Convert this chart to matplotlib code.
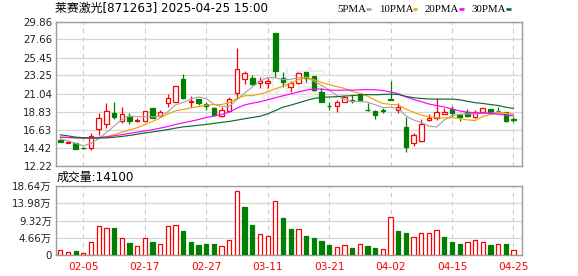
import numpy as np
import matplotlib
matplotlib.use("Agg")
import matplotlib.pyplot as plt
from matplotlib.lines import Line2D

plt.rcParams["font.family"] = ["DejaVu Sans", "Noto Sans CJK SC"]

W, H = 578, 276          # output size in pixels (dpi 100)

TITLE = "莱赛激光[871263] 2025-04-25 15:00"
VOL_LABEL = "成交量:14100"

# trading days shown (MM-DD)
DATES = ["01-23", "01-24", "01-27",
         "02-05", "02-06", "02-07", "02-10", "02-11", "02-12", "02-13", "02-14",
         "02-17", "02-18", "02-19", "02-20", "02-21", "02-24", "02-25", "02-26",
         "02-27", "02-28", "03-03", "03-04", "03-05", "03-06", "03-07", "03-10",
         "03-11", "03-12", "03-13", "03-14", "03-17", "03-18", "03-19", "03-20",
         "03-21", "03-24", "03-25", "03-26", "03-27", "03-28", "03-31", "04-01",
         "04-02", "04-03", "04-07", "04-08", "04-09", "04-10", "04-11", "04-14",
         "04-15", "04-16", "04-17", "04-18", "04-21", "04-22", "04-23", "04-24",
         "04-25"]
TICK_DATES = ["02-05", "02-17", "02-27", "03-11", "03-21", "04-02", "04-15", "04-25"]

OPEN = [15.30, 15.00, 14.95, 14.38, 14.36, 16.70, 17.32, 18.66, 17.70, 18.25,
        17.72, 17.66, 19.28, 18.24, 19.88, 20.04, 22.78, 20.05, 20.38, 19.76,
        19.27, 18.29, 18.95, 21.14, 22.77, 22.89, 22.37, 22.28, 28.43, 22.97,
        21.88, 22.37, 23.63, 23.18, 21.27, 19.56, 19.56, 19.96, 20.22, 20.98,
        19.05, 18.95, 18.97, 20.40, 19.03, 16.95, 14.96, 15.28, 17.75, 18.09,
        18.50, 19.11, 18.35, 18.75, 18.13, 18.82, 19.15, 18.92, 18.80, 17.90]
HIGH = [15.38, 15.20, 14.98, 14.52, 16.20, 18.62, 19.90, 20.00, 19.38, 18.66,
        18.06, 18.95, 19.30, 18.96, 20.95, 21.98, 23.42, 20.74, 20.42, 20.04,
        19.35, 19.35, 20.66, 26.60, 23.83, 23.30, 23.02, 22.94, 28.45, 23.71,
        22.61, 23.71, 23.71, 23.20, 21.67, 20.04, 20.25, 20.74, 20.86, 21.06,
        19.92, 18.96, 19.23, 22.57, 19.92, 18.21, 16.18, 17.89, 18.50, 20.50,
        19.23, 19.52, 18.54, 19.11, 19.03, 19.25, 19.17, 19.43, 18.82, 18.21]
LOW = [15.08, 14.95, 14.20, 14.20, 14.10, 16.00, 16.85, 17.95, 17.48, 17.28,
       17.55, 17.62, 18.00, 18.22, 19.40, 19.96, 20.33, 19.35, 19.64, 19.03,
       18.42, 18.21, 18.82, 20.37, 22.16, 22.08, 21.67, 21.67, 23.10, 21.88,
       21.27, 22.16, 22.49, 21.39, 20.00, 19.03, 18.82, 19.94, 19.90, 20.15,
       18.95, 17.89, 18.62, 20.20, 18.70, 13.82, 14.63, 15.04, 17.68, 17.80,
       18.50, 18.18, 17.62, 18.21, 18.05, 18.70, 18.54, 18.74, 17.60, 17.55]
CLOSE = [15.10, 15.16, 14.22, 14.33, 15.80, 18.05, 18.92, 18.12, 18.48, 17.66,
         17.80, 18.95, 18.02, 18.78, 20.48, 21.96, 20.50, 20.18, 19.92, 19.55,
         18.46, 19.03, 20.37, 23.99, 23.59, 22.20, 22.57, 22.62, 23.83, 22.49,
         22.37, 23.51, 22.89, 21.47, 20.04, 19.50, 20.04, 20.57, 20.12, 20.17,
         19.00, 18.42, 18.90, 20.25, 19.43, 14.43, 15.97, 17.32, 18.09, 18.82,
         18.78, 18.66, 18.13, 18.33, 18.75, 19.23, 18.62, 18.86, 17.72, 17.85]
PREV_CLOSE = 15.00       # close of the day before the first bar

# volume in 万 shares
VOLUME = [1.26, 0.72, 1.08, 0.63, 3.42, 7.75, 7.20, 7.30, 4.50, 3.15,
          2.35, 4.50, 3.50, 2.90, 7.75, 8.00, 6.50, 3.50, 2.75, 3.00,
          3.00, 2.30, 4.05, 17.2, 13.0, 8.10, 5.60, 5.10, 14.6, 10.0,
          7.00, 7.00, 5.10, 4.60, 3.80, 2.70, 2.15, 2.60, 1.90, 2.90,
          2.40, 1.90, 1.60, 10.2, 6.50, 5.90, 4.80, 5.90, 5.90, 6.80,
          4.90, 3.50, 3.00, 3.40, 4.00, 3.40, 2.70, 2.90, 2.90, 1.41]

MA5 = [15.45, 15.25, 14.93, 14.64, 14.92, 15.51, 16.26, 17.04, 17.87, 18.25,
       18.20, 18.20, 18.18, 18.24, 18.81, 19.64, 19.95, 20.38, 20.61, 20.42,
       19.72, 19.43, 19.47, 20.28, 21.09, 21.84, 22.54, 22.99, 22.96, 22.74,
       22.78, 22.96, 23.02, 22.55, 22.06, 21.48, 20.79, 20.32, 20.05, 20.08,
       19.98, 19.66, 19.32, 19.35, 19.20, 18.29, 17.80, 17.48, 17.05, 16.93,
       17.80, 18.33, 18.50, 18.54, 18.53, 18.62, 18.61, 18.76, 18.64, 18.46]
MA10 = [15.74, 15.65, 15.56, 15.53, 15.53, 15.60, 15.75, 16.00, 16.30, 16.58,
        16.85, 17.23, 17.61, 18.06, 18.53, 18.92, 19.08, 19.28, 19.43, 19.61,
        19.68, 19.69, 19.92, 20.44, 20.76, 20.78, 20.99, 21.23, 21.62, 21.92,
        22.31, 22.75, 23.01, 22.75, 22.40, 22.13, 21.88, 21.67, 21.30, 21.07,
        20.73, 20.22, 19.82, 19.70, 19.64, 19.13, 18.73, 18.40, 18.20, 18.06,
        18.04, 18.07, 17.99, 17.80, 17.73, 18.21, 18.47, 18.63, 18.59, 18.49]
MA20 = [15.65, 15.65, 15.62, 15.60, 15.62, 15.66, 15.72, 15.85, 16.00, 16.15,
        16.30, 16.45, 16.60, 16.80, 17.00, 17.25, 17.45, 17.65, 17.85, 18.10,
        18.27, 18.46, 18.77, 19.25, 19.64, 19.85, 20.03, 20.26, 20.52, 20.76,
        20.99, 21.22, 21.46, 21.60, 21.58, 21.45, 21.43, 21.45, 21.46, 21.49,
        21.52, 21.49, 21.41, 21.23, 21.02, 20.63, 20.30, 20.04, 19.75, 19.57,
        19.39, 19.14, 18.91, 18.75, 18.68, 18.67, 18.60, 18.51, 18.39, 18.28]
MA30 = [15.98, 15.85, 15.70, 15.62, 15.58, 15.58, 15.60, 15.68, 15.78, 15.90,
        16.05, 16.20, 16.33, 16.47, 16.62, 16.80, 16.95, 17.05, 17.15, 17.25,
        17.38, 17.50, 17.62, 17.78, 17.95, 18.10, 18.25, 18.55, 18.95, 19.37,
        19.61, 19.89, 20.18, 20.42, 20.56, 20.61, 20.65, 20.73, 20.78, 20.87,
        20.91, 20.89, 20.92, 20.97, 20.93, 20.68, 20.53, 20.43, 20.37, 20.35,
        20.36, 20.35, 20.27, 20.08, 19.92, 19.82, 19.69, 19.57, 19.36, 19.21]

PRICE_TICKS = [12.22, 14.42, 16.63, 18.83, 21.04, 23.25, 25.45, 27.66, 29.86]
VOL_TICKS = [0, 4.66, 9.32, 13.98, 18.64]

RED = "#ff0000"
GREEN = "#008000"
GRID = "#d6d6d6"
VGRID = "#c8c8c8"
FRAME = "#9c9c9c"
MA_SERIES = [("5PMA", MA5, "#a6a6a6"), ("10PMA", MA10, "#f2a100"),
             ("20PMA", MA20, "#ff00ff"), ("30PMA", MA30, "#0b6b2e")]


def fx(px):
    return px / W


def fy(py):
    return 1.0 - py / H


def style_axes(ax, ticks):
    for s in ax.spines.values():
        s.set_color(FRAME)
        s.set_linewidth(1.0)
    ax.set_xticks(ticks)
    ax.tick_params(length=0)
    ax.xaxis.grid(True, color=VGRID, lw=0.75, ls=(0, (4, 4)))
    ax.yaxis.grid(True, color=GRID, lw=0.9, ls="-")
    ax.set_axisbelow(True)
    ax.set_xlim(-0.56, 60.05)


fig = plt.figure(figsize=(W / 100, H / 100), dpi=100)
ax = fig.add_axes([fx(56), fy(165.5), fx(465.5), 144 / H])
axv = fig.add_axes([fx(56), fy(255), fx(465.5), 69 / H])

x = np.arange(len(DATES))
tick_pos = [DATES.index(d) for d in TICK_DATES]
o, hi, lo, c = (np.asarray(a) for a in (OPEN, HIGH, LOW, CLOSE))
up = c >= o
b_lo, b_hi = np.minimum(o, c), np.maximum(o, c)

# --- price panel
style_axes(ax, tick_pos)
ax.set_ylim(12.22, 29.86)
ax.set_yticks(PRICE_TICKS)
ax.set_yticklabels([f"{v:.2f}" for v in PRICE_TICKS], fontsize=7.4, color="#222222")
ax.tick_params(axis="y", pad=2.6)
ax.set_xticklabels([])

# faint watermark behind the candles
ax.text(0.51, 0.55, "财富", transform=ax.transAxes, fontsize=25, color="#ededed",
        ha="center", va="center", family=["Noto Sans CJK SC"], zorder=1)

ax.vlines(x[~up], lo[~up], hi[~up], color=GREEN, lw=0.9, zorder=2)
ax.vlines(x[up], b_hi[up], hi[up], color=RED, lw=0.9, zorder=2)
ax.vlines(x[up], lo[up], b_lo[up], color=RED, lw=0.9, zorder=2)
ax.bar(x[up], (b_hi - b_lo)[up], bottom=b_lo[up], width=0.58,
       facecolor="white", edgecolor=RED, lw=0.9, zorder=3)
ax.bar(x[~up], (b_hi - b_lo)[~up], bottom=b_lo[~up], width=0.58,
       facecolor=GREEN, edgecolor=GREEN, lw=0.9, zorder=3)

for name, vals, col in MA_SERIES:
    ax.plot(x, vals, color=col, lw=0.85, zorder=4)

# --- volume panel
prev = np.concatenate([[PREV_CLOSE], c[:-1]])
vup = c >= prev
vol = np.asarray(VOLUME)
style_axes(axv, tick_pos)
axv.set_ylim(0, 18.64)
axv.set_yticks(VOL_TICKS)
axv.set_yticklabels(["0" if v == 0 else f"{v:.2f}万" for v in VOL_TICKS],
                    fontsize=7.4, color="#222222")
axv.tick_params(axis="y", pad=3.0)
axv.set_xticklabels(TICK_DATES, fontsize=7.6, color=RED)
axv.tick_params(axis="x", pad=5)
axv.bar(x[vup], vol[vup], width=0.56, facecolor="white", edgecolor=RED, lw=0.9, zorder=3)
axv.bar(x[~vup], vol[~vup], width=0.56, facecolor=GREEN, edgecolor=GREEN, lw=0.9, zorder=3)

# --- titles and legend
fig.text(fx(55), fy(8.5), TITLE, fontsize=8.6, color="black", ha="left", va="center")
fig.text(fx(57), fy(177.5), VOL_LABEL, fontsize=8.6, color="black", ha="left", va="center")

legend_left = [337, 379, 425, 471]
marker_left = [366, 412.7, 459.3, 506]
for (name, _, col), lx, mx in zip(MA_SERIES, legend_left, marker_left):
    fig.text(fx(lx), fy(9), name, fontsize=7.8, family=["Liberation Serif"],
             color="black", ha="left", va="center")
    fig.add_artist(Line2D([fx(mx), fx(mx + 4.7)], [fy(9), fy(9)], color=col,
                          lw=1.9, solid_capstyle="butt", transform=fig.transFigure))

fig.savefig("out.png", dpi=100)
